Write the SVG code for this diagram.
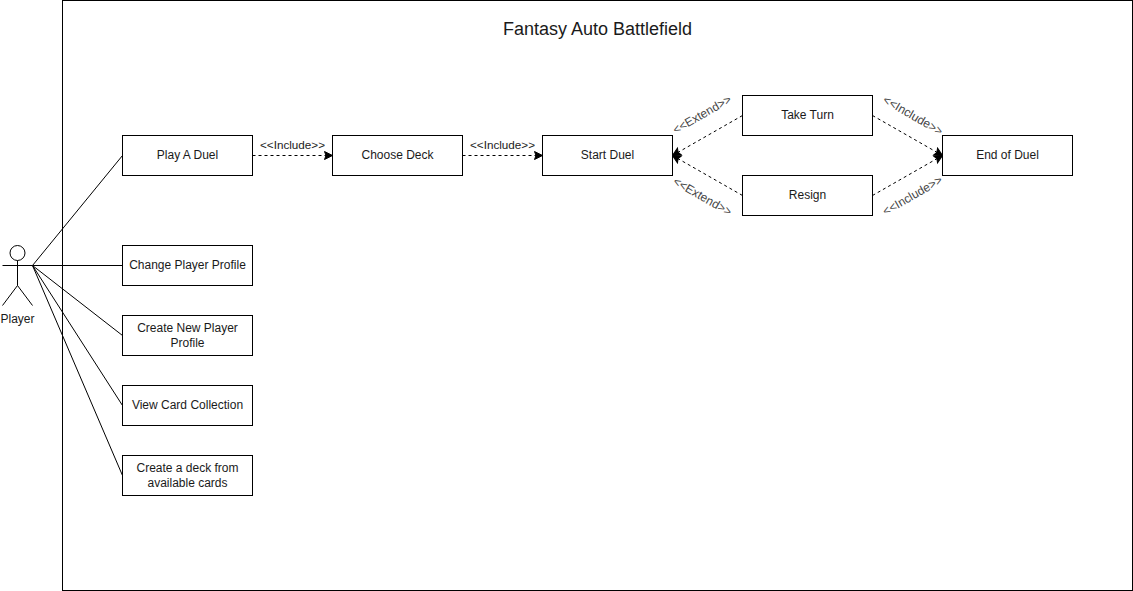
<svg xmlns="http://www.w3.org/2000/svg" width="1133" height="591" viewBox="0 0 1133 591">
<style>
text{font-family:Helvetica,"Liberation Sans",Arial,sans-serif;font-size:12px;fill:#1a1a1a;text-anchor:middle}
.box{fill:#fff;stroke:#000;stroke-width:1}
.line{fill:none;stroke:#000;stroke-width:1}
.dash{fill:none;stroke:#000;stroke-width:1;stroke-dasharray:3 3;marker-end:url(#arrow)}
.lbl{font-size:11.700px;fill:#222}
.rot{font-size:12px;fill:#444}
</style>
<defs>
<marker id="arrow" markerUnits="userSpaceOnUse" markerWidth="10" markerHeight="10" refX="9" refY="4.5" orient="auto">
<path d="M1 0.500L9 4.500L1 8.500L2.500 4.500Z" fill="#000" stroke="#000" stroke-width="1"/>
</marker>
</defs>
<rect width="1133" height="591" fill="#fff"/>
<g id="system">
<rect x="62.500" y="0.500" width="1070" height="590" fill="#fff" stroke="#000"/>
<text x="597.500" y="35" style="font-size:18px">Fantasy Auto Battlefield</text>
</g>
<g id="connectors">
<path class="line" d="M32.500 265.500L122.500 155.500"/>
<path class="line" d="M32.500 265.500H122.500"/>
<path class="line" d="M32.500 265.500L122.500 335.500"/>
<path class="line" d="M32.500 265.500L122.500 405.500"/>
<path class="line" d="M32.500 265.500L122.500 475.500"/>
<path class="dash" d="M252.500 155.500H332.500"/>
<path class="dash" d="M462.500 155.500H542.500"/>
<path class="dash" d="M742.500 115.500L672.500 155.500"/>
<path class="dash" d="M742.500 195.500L672.500 155.500"/>
<path class="dash" d="M872.500 115.500L942.500 155.500"/>
<path class="dash" d="M872.500 195.500L942.500 155.500"/>
<text class="lbl" x="292.500" y="148.500">&lt;&lt;Include&gt;&gt;</text>
<text class="lbl" x="502.500" y="148.500">&lt;&lt;Include&gt;&gt;</text>
<text class="rot" transform="translate(704 118) rotate(-30)">&lt;&lt;Extend&gt;&gt;</text>
<text class="rot" transform="translate(700.500 200) rotate(30)">&lt;&lt;Extend&gt;&gt;</text>
<text class="rot" transform="translate(911 119) rotate(30)">&lt;&lt;Include&gt;&gt;</text>
<text class="rot" transform="translate(914.500 199) rotate(-30)">&lt;&lt;Include&gt;&gt;</text>
</g>
<g id="player">
<circle cx="17.500" cy="253" r="7.500" fill="#fff" stroke="#000"/>
<path class="line" d="M17.500 260.500V285.500M2.500 265.500H32.500M17.500 285.500L2.500 305.500M17.500 285.500L32.500 305.500"/>
<text x="17.500" y="323">Player</text>
</g>
<g id="play-duel"><rect class="box" x="122.500" y="135.500" width="130" height="40"/><text x="187.500" y="159">Play A Duel</text></g>
<g id="change-profile"><rect class="box" x="122.500" y="245.500" width="130" height="40"/><text x="187.500" y="269">Change Player Profile</text></g>
<g id="new-profile"><rect class="box" x="122.500" y="315.500" width="130" height="40"/><text x="187.500" y="332">Create New Player</text><text x="187.500" y="347">Profile</text></g>
<g id="view-collection"><rect class="box" x="122.500" y="385.500" width="130" height="40"/><text x="187.500" y="409">View Card Collection</text></g>
<g id="create-deck"><rect class="box" x="122.500" y="455.500" width="130" height="40"/><text x="187.500" y="472">Create a deck from</text><text x="187.500" y="487">available cards</text></g>
<g id="choose-deck"><rect class="box" x="332.500" y="135.500" width="130" height="40"/><text x="397.500" y="159">Choose Deck</text></g>
<g id="start-duel"><rect class="box" x="542.500" y="135.500" width="130" height="40"/><text x="607.500" y="159">Start Duel</text></g>
<g id="take-turn"><rect class="box" x="742.500" y="95.500" width="130" height="40"/><text x="807.500" y="119">Take Turn</text></g>
<g id="resign"><rect class="box" x="742.500" y="175.500" width="130" height="40"/><text x="807.500" y="199">Resign</text></g>
<g id="end-duel"><rect class="box" x="942.500" y="135.500" width="130" height="40"/><text x="1007.500" y="159">End of Duel</text></g>
</svg>
